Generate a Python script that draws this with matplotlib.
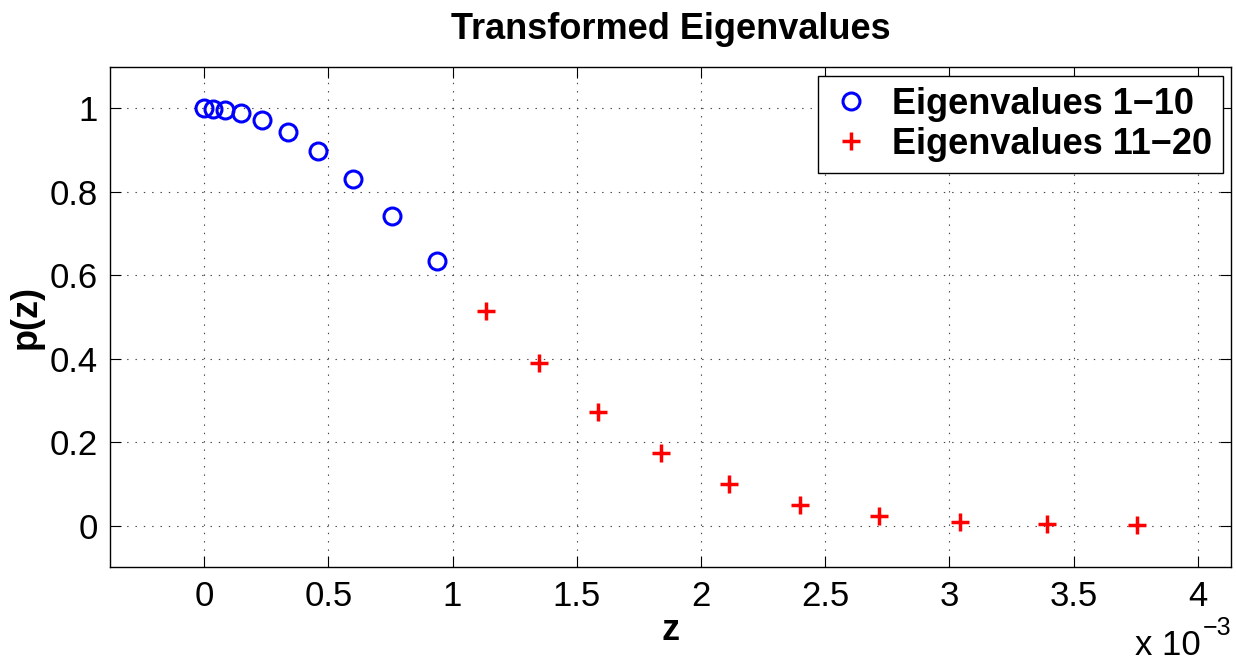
import matplotlib
matplotlib.use("Agg")
import matplotlib.pyplot as plt
from matplotlib.ticker import FuncFormatter

plt.rcParams['font.family'] = ['Liberation Sans', 'DejaVu Sans']
plt.rcParams['lines.scale_dashes'] = False

# Eigenvalues 1-10 (circles)
z_low = [0.0, 0.0375e-3, 0.082e-3, 0.148e-3, 0.233e-3, 0.337e-3,
         0.458e-3, 0.600e-3, 0.758e-3, 0.938e-3]
p_low = [1.0, 0.999, 0.997, 0.990, 0.973, 0.943, 0.897, 0.830, 0.743, 0.635]

# Eigenvalues 11-20 (pluses)
z_high = [1.135e-3, 1.350e-3, 1.586e-3, 1.839e-3, 2.113e-3, 2.400e-3,
          2.717e-3, 3.042e-3, 3.392e-3, 3.756e-3]
p_high = [0.514, 0.390, 0.272, 0.174, 0.100, 0.050, 0.024, 0.008, 0.003, 0.001]

x_ticks = [0, 0.5e-3, 1e-3, 1.5e-3, 2e-3, 2.5e-3, 3e-3, 3.5e-3, 4e-3]
y_ticks = [0, 0.2, 0.4, 0.6, 0.8, 1.0]

fig = plt.figure(figsize=(12.36, 6.61), dpi=100)
ax = fig.add_axes([110 / 1236, 1 - 567.3 / 661, (1231 - 110) / 1236, (567.3 - 66.7) / 661])

ax.plot(z_low, p_low, linestyle='none', marker='o', markersize=12.2,
        markerfacecolor='none', markeredgecolor='#0000ff', markeredgewidth=2.2,
        label='Eigenvalues 1\u221210', zorder=3)
ax.plot(z_high, p_high, linestyle='none', marker='+', markersize=13,
        markeredgecolor='#ff0000', markeredgewidth=2.5,
        label='Eigenvalues 11\u221220', zorder=3)

ax.set_xlim(-0.379e-3, 4.134e-3)
ax.set_ylim(-0.1, 1.1)
ax.set_xticks(x_ticks)
ax.set_yticks(y_ticks)
ax.xaxis.set_major_formatter(FuncFormatter(lambda v, pos: f"{v * 1e3:g}"))
ax.yaxis.set_major_formatter(FuncFormatter(lambda v, pos: f"{v:g}"))

ax.grid(True, color='#444444', linewidth=0.8, linestyle=(0, (1.0, 5.0)))
ax.tick_params(direction='in', length=7.7, width=0.8, top=True, right=True,
               labelsize=25, pad=9, colors='black')
for s in ax.spines.values():
    s.set_linewidth(1.0)

ax.set_title('Transformed Eigenvalues', fontsize=26, fontweight='bold', pad=20)
ax.set_xlabel('z', fontsize=26, fontweight='bold', labelpad=0)
ax.set_ylabel('p(z)', fontsize=26, fontweight='bold', labelpad=4)

leg = ax.legend(loc='upper right', bbox_to_anchor=(0.9929, 0.9814),
                prop={'weight': 'bold', 'size': 26},
                frameon=True, fancybox=False, edgecolor='black', framealpha=1,
                borderaxespad=0.0, handlelength=1.2, handletextpad=0.55,
                borderpad=0.3, labelspacing=0.14)
leg.get_frame().set_linewidth(1.0)

# Exponent label for the z axis
fig.text(1135 / 1236, 1 - 655 / 661, 'x 10', fontsize=25, ha='left', va='baseline')
fig.text(1203 / 1236, 1 - 635 / 661, '\u22123', fontsize=18, ha='left', va='baseline')

fig.savefig('out.png', dpi=100, facecolor='white')
